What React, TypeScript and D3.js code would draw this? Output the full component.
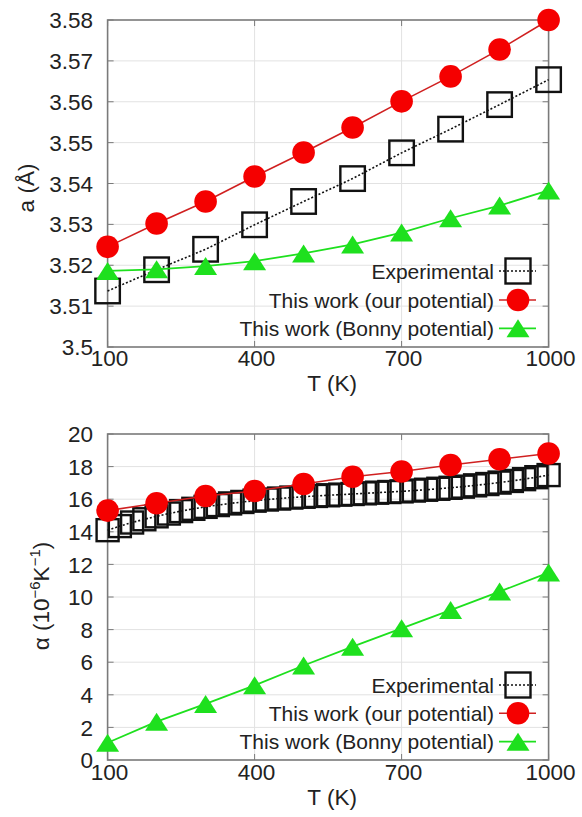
import React from "react";
import * as d3 from "d3";

const temps = [100, 200, 300, 400, 500, 600, 700, 800, 900, 1000];
const expA = [3.5137, 3.5189, 3.5239, 3.5299, 3.5356, 3.5412, 3.5475, 3.5533, 3.5593, 3.5654];
const ourA = [3.5245, 3.5302, 3.5356, 3.5417, 3.5476, 3.5537, 3.5601, 3.5662, 3.5728, 3.5800];
const bonnyA = [3.5186, 3.5190, 3.5198, 3.5210, 3.5229, 3.5251, 3.5280, 3.5315, 3.5346, 3.5383];

const expTemps = [100, 125, 150, 175, 200, 225, 250, 275, 300, 325, 350, 375, 400, 425, 450, 475, 500, 525, 550, 575, 600, 625, 650, 675, 700, 725, 750, 775, 800, 825, 850, 875, 900, 925, 950, 975, 1000];
const expAlpha = [14.10, 14.35, 14.57, 14.77, 14.95, 15.12, 15.27, 15.41, 15.53, 15.64, 15.74, 15.83, 15.91, 15.98, 16.04, 16.10, 16.15, 16.20, 16.24, 16.28, 16.32, 16.36, 16.40, 16.44, 16.48, 16.53, 16.58, 16.64, 16.70, 16.77, 16.85, 16.93, 17.02, 17.12, 17.23, 17.35, 17.48];
const ourAlpha = [15.30, 15.75, 16.20, 16.50, 16.93, 17.38, 17.70, 18.10, 18.45, 18.80];
const bonnyAlpha = [1.06, 2.35, 3.44, 4.58, 5.80, 6.95, 8.08, 9.20, 10.33, 11.50];

const xTicks = [100, 400, 700, 1000];
const aTicks = [3.5, 3.51, 3.52, 3.53, 3.54, 3.55, 3.56, 3.57, 3.58];
const alphaTicks = [0, 2, 4, 6, 8, 10, 12, 14, 16, 18, 20];
const legendLabels = ["Experimental", "This work (our potential)", "This work (Bonny potential)"];

const FONT = "'Liberation Sans', Arial, Helvetica, sans-serif";
const RED = "#f50000";
const RED_LINE = "#d02020";
const GREEN = "#1ee01e";
const TEXT = "#222";
const FRAME = "#7a7a7a";

type Pt = [number, number];

function Square({ x, y, s }: { x: number; y: number; s: number }) {
  return <rect x={x - s / 2} y={y - s / 2} width={s} height={s} fill="none" stroke="#111" strokeWidth={2.4} />;
}
function Circle({ x, y, r }: { x: number; y: number; r: number }) {
  return <circle cx={x} cy={y} r={r} fill={RED} />;
}
function Tri({ x, y, w, h }: { x: number; y: number; w: number; h: number }) {
  return <path d={`M${x},${y - h / 2}L${x + w / 2},${y + h / 2}L${x - w / 2},${y + h / 2}Z`} fill={GREEN} />;
}

function Panel({
  top, bottom, yDomain, yTicks, yFmt, exT, exV, our, bon, sqSize, legendY, xLabelY, xTickY, yLabel,
}: {
  top: number; bottom: number; yDomain: [number, number]; yTicks: number[]; yFmt: (v: number) => string;
  exT: number[]; exV: number[]; our: number[]; bon: number[]; sqSize: number; legendY: number[];
  xLabelY: number; xTickY: number; yLabel: React.ReactNode;
}) {
  const left = 107.6, right = 548.6;
  const x = d3.scaleLinear().domain([100, 1000]).range([left, right]);
  const y = d3.scaleLinear().domain(yDomain).range([bottom, top]);
  const line = d3.line<Pt>().x((d) => x(d[0])).y((d) => y(d[1]));
  const exPts: Pt[] = exT.map((t, i) => [t, exV[i]]);
  const ourPts: Pt[] = temps.map((t, i) => [t, our[i]]);
  const bonPts: Pt[] = temps.map((t, i) => [t, bon[i]]);
  const tickLen = 6;
  const lx0 = 499, lx1 = 536, lxm = 518;
  return (
    <g>
      {yTicks.slice(1, -1).map((t) => (
        <line key={"gy" + t} x1={left} x2={right} y1={y(t)} y2={y(t)} stroke="#e2e2e2" strokeWidth={1} />
      ))}
      {xTicks.slice(1, -1).map((t) => (
        <line key={"gx" + t} x1={x(t)} x2={x(t)} y1={top} y2={bottom} stroke="#e2e2e2" strokeWidth={1} />
      ))}
      {yTicks.map((t) => (
        <g key={"ty" + t}>
          <line x1={left} x2={left + tickLen} y1={y(t)} y2={y(t)} stroke={FRAME} strokeWidth={1} />
          <line x1={right} x2={right - tickLen} y1={y(t)} y2={y(t)} stroke={FRAME} strokeWidth={1} />
          <text x={93} y={y(t)} dy="0.36em" textAnchor="end" fontSize={22.5} fill={TEXT} fontFamily={FONT}>
            {yFmt(t)}
          </text>
        </g>
      ))}
      {xTicks.map((t) => (
        <g key={"tx" + t}>
          <line x1={x(t)} x2={x(t)} y1={bottom} y2={bottom - tickLen} stroke={FRAME} strokeWidth={1} />
          <line x1={x(t)} x2={x(t)} y1={top} y2={top + tickLen} stroke={FRAME} strokeWidth={1} />
          <text x={x(t) + 2} y={xTickY} textAnchor="middle" fontSize={22.5} fill={TEXT} fontFamily={FONT}>
            {t}
          </text>
        </g>
      ))}
      <rect x={left} y={top} width={right - left} height={bottom - top} fill="none" stroke={FRAME} strokeWidth={1.6} />
      <text x={(left + right) / 2 + 4} y={xLabelY} textAnchor="middle" fontSize={22.5} fill={TEXT} fontFamily={FONT}>
        T (K)
      </text>
      {yLabel}
      <path d={line(exPts) || ""} fill="none" stroke="#111" strokeWidth={1.6} strokeDasharray="2,2" />
      {exPts.map((d, i) => <Square key={"s" + i} x={x(d[0])} y={y(d[1])} s={sqSize} />)}
      <path d={line(ourPts) || ""} fill="none" stroke={RED_LINE} strokeWidth={1.6} />
      {ourPts.map((d, i) => <Circle key={"c" + i} x={x(d[0])} y={y(d[1])} r={11.3} />)}
      <path d={line(bonPts) || ""} fill="none" stroke={GREEN} strokeWidth={1.8} />
      {bonPts.map((d, i) => <Tri key={"t" + i} x={x(d[0])} y={y(d[1])} w={23} h={18} />)}
      {legendLabels.map((lab, i) => (
        <text key={"l" + i} x={494} y={legendY[i]} dy="0.36em" textAnchor="end" fontSize={21} fill={TEXT} fontFamily={FONT}>
          {lab}
        </text>
      ))}
      <line x1={lx0} x2={lx1} y1={legendY[0]} y2={legendY[0]} stroke="#111" strokeWidth={1.6} strokeDasharray="2,2" />
      <Square x={lxm} y={legendY[0]} s={25} />
      <line x1={lx0} x2={lx1} y1={legendY[1]} y2={legendY[1]} stroke={RED_LINE} strokeWidth={1.6} />
      <Circle x={lxm} y={legendY[1]} r={11.3} />
      <line x1={lx0} x2={lx1} y1={legendY[2]} y2={legendY[2]} stroke={GREEN} strokeWidth={1.8} />
      <Tri x={lxm} y={legendY[2]} w={23} h={18} />
    </g>
  );
}

export default function App() {
  const fmtA = (v: number) => d3.format(".2~f")(v);
  const fmtAlpha = (v: number) => String(v);
  return (
    <svg width={582} height={817} style={{ position: "absolute", left: 0, top: 0, background: "#fff" }}>
      <rect width={582} height={817} fill="#fff" />
      <Panel
        top={20}
        bottom={347}
        yDomain={[3.5, 3.58]}
        yTicks={aTicks}
        yFmt={fmtA}
        exT={temps}
        exV={expA}
        our={ourA}
        bon={bonnyA}
        sqSize={24.5}
        legendY={[271, 300, 328.3]}
        xTickY={366}
        xLabelY={391}
        yLabel={
          <text transform="translate(34,188) rotate(-90)" textAnchor="middle" fontSize={22.5} fill={TEXT} fontFamily={FONT}>
            a (Å)
          </text>
        }
      />
      <Panel
        top={434}
        bottom={760}
        yDomain={[0, 20]}
        yTicks={alphaTicks}
        yFmt={fmtAlpha}
        exT={expTemps}
        exV={expAlpha}
        our={ourAlpha}
        bon={bonnyAlpha}
        sqSize={22}
        legendY={[685, 713.3, 741.7]}
        xTickY={780}
        xLabelY={805}
        yLabel={
          <text transform="translate(49,596) rotate(-90)" textAnchor="middle" fontSize={22.5} fill={TEXT} fontFamily={FONT}>
            α (10<tspan dy={-9} fontSize={15}>−6</tspan><tspan dy={9}>K</tspan><tspan dy={-9} fontSize={15}>−1</tspan><tspan dy={9}>)</tspan>
          </text>
        }
      />
    </svg>
  );
}
